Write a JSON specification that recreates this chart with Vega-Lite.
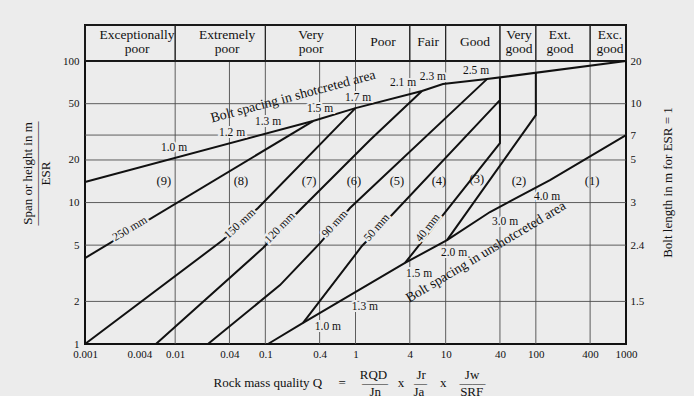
{
  "$schema": "https://vega.github.io/schema/vega-lite/v6.json",
  "width": 541,
  "height": 319,
  "autosize": {"type": "none"},
  "padding": {"left": 85, "top": 25, "right": 68, "bottom": 52},
  "background": "#ececec",
  "config": {
    "view": {"stroke": "#111111", "strokeWidth": 2},
    "font": "Liberation Serif",
    "text": {"font": "Liberation Serif", "color": "#111111"}
  },
  "datasets": {
    "hgrid": [{"S": 2}, {"S": 5}, {"S": 10}, {"S": 20}, {"S": 30}, {"S": 50}],
    "vgrid": [{"Q": 0.01}, {"Q": 0.04}, {"Q": 0.1}, {"Q": 0.4}, {"Q": 1}, {"Q": 4}, {"Q": 10}, {"Q": 40}, {"Q": 100}, {"Q": 400}],
    "border": [{"S": 100}],
    "header": [
      {"name": "Exceptionally\npoor", "lo": 0.001, "hi": 0.01, "mid": 0.00378},
      {"name": "Extremely\npoor", "lo": 0.01, "hi": 0.1, "mid": 0.0376},
      {"name": "Very\npoor", "lo": 0.1, "hi": 1, "mid": 0.321},
      {"name": "Poor", "lo": 1, "hi": 4, "mid": 2.02},
      {"name": "Fair", "lo": 4, "hi": 10, "mid": 6.37},
      {"name": "Good", "lo": 10, "hi": 40, "mid": 21.1},
      {"name": "Very\ngood", "lo": 40, "hi": 100, "mid": 65},
      {"name": "Ext.\ngood", "lo": 100, "hi": 400, "mid": 185},
      {"name": "Exc.\ngood", "lo": 400, "hi": 1000, "mid": 664}
    ],
    "lines": [
      {"id": "s250", "o": 1, "Q": 0.001, "S": 4.05},
      {"id": "s250", "o": 2, "Q": 0.338, "S": 37.7},
      {"id": "s150", "o": 1, "Q": 0.001, "S": 1},
      {"id": "s150", "o": 2, "Q": 0.0339, "S": 5.43},
      {"id": "s150", "o": 3, "Q": 0.083, "S": 9.15},
      {"id": "s150", "o": 4, "Q": 1.0, "S": 46.5},
      {"id": "s120", "o": 1, "Q": 0.00612, "S": 1},
      {"id": "s120", "o": 2, "Q": 0.0942, "S": 4.77},
      {"id": "s120", "o": 3, "Q": 0.242, "S": 8.85},
      {"id": "s120", "o": 4, "Q": 1.45, "S": 27.7},
      {"id": "s120", "o": 5, "Q": 5.46, "S": 61.4},
      {"id": "s90", "o": 1, "Q": 0.0231, "S": 1},
      {"id": "s90", "o": 2, "Q": 0.1455, "S": 2.61},
      {"id": "s90", "o": 3, "Q": 0.404, "S": 5.17},
      {"id": "s90", "o": 4, "Q": 0.869, "S": 9.15},
      {"id": "s90", "o": 5, "Q": 28.7, "S": 74.6},
      {"id": "s50", "o": 1, "Q": 0.262, "S": 1.41},
      {"id": "s50", "o": 2, "Q": 1.18, "S": 4.93},
      {"id": "s50", "o": 3, "Q": 2.41, "S": 7.9},
      {"id": "s50", "o": 4, "Q": 40, "S": 53},
      {"id": "s40", "o": 1, "Q": 3.54, "S": 3.74},
      {"id": "s40", "o": 2, "Q": 40, "S": 26.3},
      {"id": "s40", "o": 3, "Q": 40, "S": 76.8},
      {"id": "b23", "o": 1, "Q": 10.35, "S": 5.43},
      {"id": "b23", "o": 2, "Q": 100, "S": 41.5},
      {"id": "b23", "o": 3, "Q": 100, "S": 82.7},
      {"id": "unshot", "o": 1, "Q": 0.107, "S": 1},
      {"id": "unshot", "o": 2, "Q": 0.262, "S": 1.41},
      {"id": "unshot", "o": 3, "Q": 3.54, "S": 3.74},
      {"id": "unshot", "o": 4, "Q": 10.35, "S": 5.43},
      {"id": "unshot", "o": 5, "Q": 31, "S": 8.57},
      {"id": "unshot", "o": 6, "Q": 143.5, "S": 14.4},
      {"id": "unshot", "o": 7, "Q": 1000, "S": 30},
      {"id": "shot", "o": 1, "Q": 0.001, "S": 13.96},
      {"id": "shot", "o": 2, "Q": 0.338, "S": 37.7},
      {"id": "shot", "o": 3, "Q": 1.0, "S": 46.5},
      {"id": "shot", "o": 4, "Q": 5.46, "S": 61.4},
      {"id": "shot", "o": 5, "Q": 9.33, "S": 68.8},
      {"id": "shot", "o": 6, "Q": 28.7, "S": 74.6},
      {"id": "shot", "o": 7, "Q": 1000, "S": 100}
    ],
    "spacing": [
      {"t": "1.0 m", "Q": 0.0097, "S": 24.3},
      {"t": "1.2 m", "Q": 0.0427, "S": 31.0},
      {"t": "1.3 m", "Q": 0.107, "S": 37.1},
      {"t": "1.5 m", "Q": 0.404, "S": 45.8},
      {"t": "1.7 m", "Q": 1.07, "S": 54.8},
      {"t": "2.1 m", "Q": 3.37, "S": 69.9},
      {"t": "2.3 m", "Q": 7.23, "S": 77.1},
      {"t": "2.5 m", "Q": 21.7, "S": 85.0},
      {"t": "1.0 m", "Q": 0.495, "S": 1.32},
      {"t": "1.3 m", "Q": 1.27, "S": 1.82},
      {"t": "1.5 m", "Q": 5.06, "S": 3.13},
      {"t": "2.0 m", "Q": 12.4, "S": 4.39},
      {"t": "3.0 m", "Q": 45.5, "S": 7.28},
      {"t": "4.0 m", "Q": 133, "S": 10.9}
    ],
    "regions": [
      {"t": "(9)", "Q": 0.0075, "S": 14.2},
      {"t": "(8)", "Q": 0.0537, "S": 14.2},
      {"t": "(7)", "Q": 0.305, "S": 14.2},
      {"t": "(6)", "Q": 0.962, "S": 14.2},
      {"t": "(5)", "Q": 2.88, "S": 14.2},
      {"t": "(4)", "Q": 8.43, "S": 14.2},
      {"t": "(3)", "Q": 22.2, "S": 14.7},
      {"t": "(2)", "Q": 65.0, "S": 14.2},
      {"t": "(1)", "Q": 420, "S": 14.2}
    ],
    "rotated": [
      {"t": "250 mm", "Q": 0.00316, "S": 6.5},
      {"t": "150 mm", "Q": 0.0524, "S": 7.05},
      {"t": "120 mm", "Q": 0.1455, "S": 6.61},
      {"t": "90 mm", "Q": 0.593, "S": 7.05},
      {"t": "50 mm", "Q": 1.73, "S": 6.61},
      {"t": "40 mm", "Q": 6.37, "S": 6.61},
      {"t": "Bolt spacing in shotcreted area", "Q": 0.203, "S": 56.1},
      {"t": "Bolt spacing in unshotcreted area", "Q": 28.0, "S": 4.47}
    ]
  },
  "layer": [
    {
      "data": {"name": "hgrid"},
      "mark": {"type": "rule", "color": "#4d4d4d", "strokeWidth": 0.9},
      "encoding": {
        "y": {
          "field": "S", "type": "quantitative",
          "scale": {"type": "log", "domain": [1, 180], "nice": false, "zero": false},
          "axis": {
            "orient": "left", "values": [1, 2, 5, 10, 20, 50, 100], "format": "~g",
            "grid": false, "ticks": false, "tickSize": 0, "domain": false,
            "labelPadding": 6, "labelFontSize": 11, "labelFont": "Liberation Serif", "labelColor": "#111111",
            "title": ["Span or height in m", "————————", "ESR"],
            "titleFont": "Liberation Serif", "titleFontSize": 13, "titleFontWeight": "normal", "titleColor": "#111111",
            "titleLineHeight": 9, "titleAngle": -90, "titleX": -58, "titleY": 148,
            "titleBaseline": "middle", "titleAlign": "center"
          }
        }
      }
    },
    {
      "data": {"name": "vgrid"},
      "mark": {"type": "rule", "color": "#4d4d4d", "strokeWidth": 0.9},
      "encoding": {
        "x": {
          "field": "Q", "type": "quantitative",
          "scale": {"type": "log", "domain": [0.001, 1000], "nice": false, "zero": false},
          "axis": {
            "orient": "bottom", "values": [0.001, 0.004, 0.01, 0.04, 0.1, 0.4, 1, 4, 10, 40, 100, 400, 1000],
            "format": "~g", "grid": false, "ticks": false, "tickSize": 0, "domain": false,
            "labelPadding": 4, "labelFontSize": 11, "labelFont": "Liberation Serif", "labelColor": "#111111",
            "labelOverlap": false, "labelFlush": false, "labelBound": false,
            "title": [
              "\u200b\u00a0\u00a0\u00a0\u00a0\u00a0\u00a0\u00a0\u00a0\u00a0\u00a0\u00a0\u00a0\u00a0\u00a0\u00a0\u00a0\u00a0\u00a0\u00a0\u00a0\u00a0\u00a0\u00a0\u00a0\u00a0\u00a0\u00a0\u00a0\u00a0\u00a0\u00a0\u00a0\u00a0\u00a0\u00a0\u00a0\u00a0\u00a0\u00a0\u00a0\u00a0\u00a0\u00a0\u00a0\u00a0RQD\u00a0\u00a0\u00a0\u00a0\u00a0\u00a0\u00a0\u00a0\u00a0Jr\u00a0\u00a0\u00a0\u00a0\u00a0\u00a0\u00a0\u00a0\u00a0\u00a0\u00a0\u00a0Jw",
              "Rock mass quality Q\u00a0\u00a0\u00a0\u00a0\u00a0=\u00a0\u00a0\u00a0\u00a0\u00a0——\u00a0\u00a0\u00a0x\u00a0\u00a0\u00a0—\u00a0\u00a0\u00a0\u00a0x\u00a0\u00a0\u00a0\u00a0——",
              "\u200b\u00a0\u00a0\u00a0\u00a0\u00a0\u00a0\u00a0\u00a0\u00a0\u00a0\u00a0\u00a0\u00a0\u00a0\u00a0\u00a0\u00a0\u00a0\u00a0\u00a0\u00a0\u00a0\u00a0\u00a0\u00a0\u00a0\u00a0\u00a0\u00a0\u00a0\u00a0\u00a0\u00a0\u00a0\u00a0\u00a0\u00a0\u00a0\u00a0\u00a0\u00a0\u00a0\u00a0\u00a0\u00a0\u00a0\u00a0\u00a0Jn\u00a0\u00a0\u00a0\u00a0\u00a0\u00a0\u00a0\u00a0\u00a0\u00a0Ja\u00a0\u00a0\u00a0\u00a0\u00a0\u00a0\u00a0\u00a0\u00a0\u00a0\u00a0SRF"
            ],
            "titleFont": "Liberation Serif", "titleFontSize": 13, "titleFontWeight": "normal", "titleColor": "#111111",
            "titleLineHeight": 8.5, "titleX": 128, "titleY": 30, "titleAlign": "left", "titleBaseline": "middle", "titleAngle": 0
          }
        },
        "y": {"datum": 1, "type": "quantitative", "axis": null},
        "y2": {"datum": 100}
      }
    },
    {
      "data": {"name": "border"},
      "mark": {"type": "rule", "color": "#111111", "strokeWidth": 2},
      "encoding": {
        "y": {
          "field": "S", "type": "quantitative",
          "axis": {
            "orient": "right", "values": [2, 5, 10, 20, 30, 50, 100],
            "labelExpr": "datum.value == 100 ? '20' : datum.value == 50 ? '10' : datum.value == 30 ? '7' : datum.value == 20 ? '5' : datum.value == 10 ? '3' : datum.value == 5 ? '2.4' : '1.5'",
            "grid": false, "ticks": false, "tickSize": 0, "domain": false,
            "labelPadding": 4, "labelFontSize": 11, "labelFont": "Liberation Serif", "labelColor": "#111111",
            "title": "Bolt length in m for ESR = 1",
            "titleFont": "Liberation Serif", "titleFontSize": 13, "titleFontWeight": "normal", "titleColor": "#111111",
            "titleAngle": -90, "titleX": 41, "titleY": 157, "titleBaseline": "middle", "titleAlign": "center"
          }
        }
      }
    },
    {
      "data": {"name": "header"},
      "mark": {"type": "rect", "filled": false, "stroke": "#222222", "strokeWidth": 1},
      "encoding": {
        "x": {"field": "lo", "type": "quantitative"},
        "x2": {"field": "hi"},
        "y": {"datum": 100, "type": "quantitative", "axis": null},
        "y2": {"datum": 180}
      }
    },
    {
      "data": {"name": "header"},
      "transform": [{"filter": "indexof(datum.name, '\\n') >= 0"}],
      "mark": {"type": "text", "fontSize": 13.5, "lineBreak": "\n", "lineHeight": 13.5, "baseline": "middle", "align": "center", "fill": "#111111"},
      "encoding": {
        "x": {"field": "mid", "type": "quantitative"},
        "y": {"datum": 152.9, "type": "quantitative", "axis": null},
        "text": {"field": "name"}
      }
    },
    {
      "data": {"name": "header"},
      "transform": [{"filter": "indexof(datum.name, '\\n') < 0"}],
      "mark": {"type": "text", "fontSize": 13.5, "baseline": "middle", "align": "center", "fill": "#111111"},
      "encoding": {
        "x": {"field": "mid", "type": "quantitative"},
        "y": {"datum": 136, "type": "quantitative", "axis": null},
        "text": {"field": "name"}
      }
    },
    {
      "data": {"name": "lines"},
      "mark": {"type": "line", "color": "#111111", "strokeWidth": 2, "strokeJoin": "miter"},
      "encoding": {
        "x": {"field": "Q", "type": "quantitative"},
        "y": {"field": "S", "type": "quantitative", "axis": null},
        "detail": {"field": "id"},
        "order": {"field": "o"}
      }
    },
    {
      "data": {"name": "spacing"},
      "mark": {"type": "text", "fontSize": 11.5, "baseline": "middle", "align": "center", "fill": "#ececec", "stroke": "#ececec", "strokeWidth": 4},
      "encoding": {"x": {"field": "Q", "type": "quantitative"}, "y": {"field": "S", "type": "quantitative", "axis": null}, "text": {"field": "t"}}
    },
    {
      "data": {"name": "spacing"},
      "mark": {"type": "text", "fontSize": 11.5, "baseline": "middle", "align": "center", "fill": "#111111"},
      "encoding": {"x": {"field": "Q", "type": "quantitative"}, "y": {"field": "S", "type": "quantitative", "axis": null}, "text": {"field": "t"}}
    },
    {
      "data": {"name": "regions"},
      "mark": {"type": "text", "fontSize": 12.5, "baseline": "middle", "align": "center", "fill": "#111111"},
      "encoding": {"x": {"field": "Q", "type": "quantitative"}, "y": {"field": "S", "type": "quantitative", "axis": null}, "text": {"field": "t"}}
    },
    {
      "data": {"name": "rotated"}, "transform": [{"filter": "datum.t == '250 mm'"}],
      "mark": {"type": "text", "fontSize": 11.5, "angle": -31, "baseline": "middle", "align": "center", "fill": "#ececec", "stroke": "#ececec", "strokeWidth": 4},
      "encoding": {"x": {"field": "Q", "type": "quantitative"}, "y": {"field": "S", "type": "quantitative", "axis": null}, "text": {"field": "t"}}
    },
    {
      "data": {"name": "rotated"}, "transform": [{"filter": "datum.t == '250 mm'"}],
      "mark": {"type": "text", "fontSize": 11.5, "angle": -31, "baseline": "middle", "align": "center", "fill": "#111111"},
      "encoding": {"x": {"field": "Q", "type": "quantitative"}, "y": {"field": "S", "type": "quantitative", "axis": null}, "text": {"field": "t"}}
    },
    {
      "data": {"name": "rotated"}, "transform": [{"filter": "datum.t == '150 mm'"}],
      "mark": {"type": "text", "fontSize": 11.5, "angle": -43, "baseline": "middle", "align": "center", "fill": "#ececec", "stroke": "#ececec", "strokeWidth": 4},
      "encoding": {"x": {"field": "Q", "type": "quantitative"}, "y": {"field": "S", "type": "quantitative", "axis": null}, "text": {"field": "t"}}
    },
    {
      "data": {"name": "rotated"}, "transform": [{"filter": "datum.t == '150 mm'"}],
      "mark": {"type": "text", "fontSize": 11.5, "angle": -43, "baseline": "middle", "align": "center", "fill": "#111111"},
      "encoding": {"x": {"field": "Q", "type": "quantitative"}, "y": {"field": "S", "type": "quantitative", "axis": null}, "text": {"field": "t"}}
    },
    {
      "data": {"name": "rotated"}, "transform": [{"filter": "datum.t == '120 mm'"}],
      "mark": {"type": "text", "fontSize": 11.5, "angle": -46, "baseline": "middle", "align": "center", "fill": "#ececec", "stroke": "#ececec", "strokeWidth": 4},
      "encoding": {"x": {"field": "Q", "type": "quantitative"}, "y": {"field": "S", "type": "quantitative", "axis": null}, "text": {"field": "t"}}
    },
    {
      "data": {"name": "rotated"}, "transform": [{"filter": "datum.t == '120 mm'"}],
      "mark": {"type": "text", "fontSize": 11.5, "angle": -46, "baseline": "middle", "align": "center", "fill": "#111111"},
      "encoding": {"x": {"field": "Q", "type": "quantitative"}, "y": {"field": "S", "type": "quantitative", "axis": null}, "text": {"field": "t"}}
    },
    {
      "data": {"name": "rotated"}, "transform": [{"filter": "datum.t == '90 mm'"}],
      "mark": {"type": "text", "fontSize": 11.5, "angle": -48, "baseline": "middle", "align": "center", "fill": "#ececec", "stroke": "#ececec", "strokeWidth": 4},
      "encoding": {"x": {"field": "Q", "type": "quantitative"}, "y": {"field": "S", "type": "quantitative", "axis": null}, "text": {"field": "t"}}
    },
    {
      "data": {"name": "rotated"}, "transform": [{"filter": "datum.t == '90 mm'"}],
      "mark": {"type": "text", "fontSize": 11.5, "angle": -48, "baseline": "middle", "align": "center", "fill": "#111111"},
      "encoding": {"x": {"field": "Q", "type": "quantitative"}, "y": {"field": "S", "type": "quantitative", "axis": null}, "text": {"field": "t"}}
    },
    {
      "data": {"name": "rotated"}, "transform": [{"filter": "datum.t == '50 mm'"}],
      "mark": {"type": "text", "fontSize": 11.5, "angle": -49, "baseline": "middle", "align": "center", "fill": "#ececec", "stroke": "#ececec", "strokeWidth": 4},
      "encoding": {"x": {"field": "Q", "type": "quantitative"}, "y": {"field": "S", "type": "quantitative", "axis": null}, "text": {"field": "t"}}
    },
    {
      "data": {"name": "rotated"}, "transform": [{"filter": "datum.t == '50 mm'"}],
      "mark": {"type": "text", "fontSize": 11.5, "angle": -49, "baseline": "middle", "align": "center", "fill": "#111111"},
      "encoding": {"x": {"field": "Q", "type": "quantitative"}, "y": {"field": "S", "type": "quantitative", "axis": null}, "text": {"field": "t"}}
    },
    {
      "data": {"name": "rotated"}, "transform": [{"filter": "datum.t == '40 mm'"}],
      "mark": {"type": "text", "fontSize": 11.5, "angle": -52, "baseline": "middle", "align": "center", "fill": "#ececec", "stroke": "#ececec", "strokeWidth": 4},
      "encoding": {"x": {"field": "Q", "type": "quantitative"}, "y": {"field": "S", "type": "quantitative", "axis": null}, "text": {"field": "t"}}
    },
    {
      "data": {"name": "rotated"}, "transform": [{"filter": "datum.t == '40 mm'"}],
      "mark": {"type": "text", "fontSize": 11.5, "angle": -52, "baseline": "middle", "align": "center", "fill": "#111111"},
      "encoding": {"x": {"field": "Q", "type": "quantitative"}, "y": {"field": "S", "type": "quantitative", "axis": null}, "text": {"field": "t"}}
    },
    {
      "data": {"name": "rotated"}, "transform": [{"filter": "datum.t == 'Bolt spacing in shotcreted area'"}],
      "mark": {"type": "text", "fontSize": 13.8, "angle": -15, "baseline": "middle", "align": "center", "fill": "#111111"},
      "encoding": {"x": {"field": "Q", "type": "quantitative"}, "y": {"field": "S", "type": "quantitative", "axis": null}, "text": {"field": "t"}}
    },
    {
      "data": {"name": "rotated"}, "transform": [{"filter": "datum.t == 'Bolt spacing in unshotcreted area'"}],
      "mark": {"type": "text", "fontSize": 13.8, "angle": -31, "baseline": "middle", "align": "center", "fill": "#111111"},
      "encoding": {"x": {"field": "Q", "type": "quantitative"}, "y": {"field": "S", "type": "quantitative", "axis": null}, "text": {"field": "t"}}
    }
  ],
  "resolve": {"axis": {"y": "independent"}}
}
